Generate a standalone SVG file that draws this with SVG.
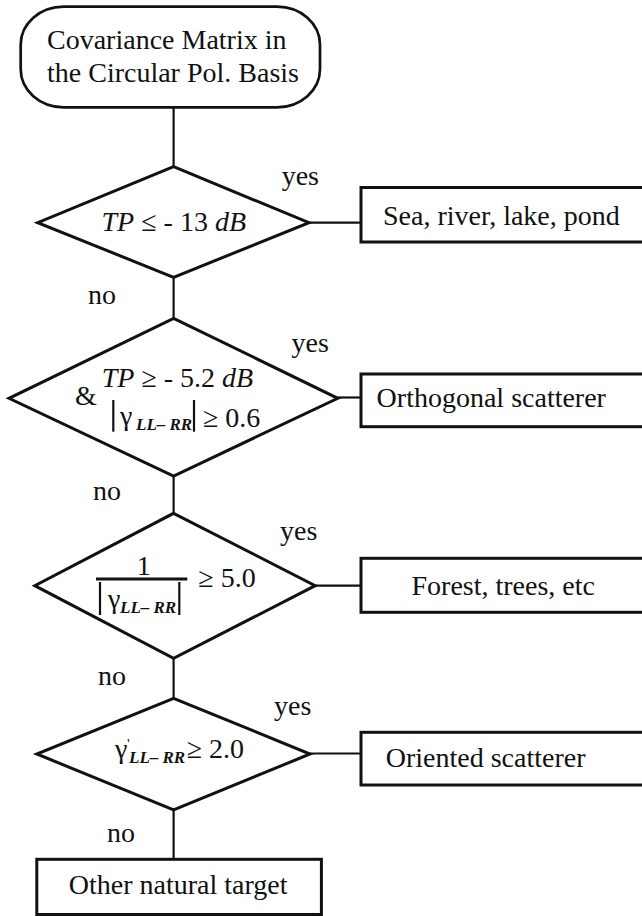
<svg xmlns="http://www.w3.org/2000/svg" width="642" height="916" viewBox="0 0 642 916" font-family="'Liberation Serif', Tinos, 'DejaVu Serif', serif">
<style>
  text { font-family: 'Liberation Serif', Tinos, 'DejaVu Serif', serif; font-size: 28px; fill: #111; }
  .it { font-style: italic; }
  .sub { font-style: italic; font-weight: bold; font-size: 17px; }
  .shape { fill: #fff; stroke: #111; stroke-width: 3; }
  .term { fill: #fff; stroke: #111; stroke-width: 2.7; }
  .box { fill: #fff; stroke: #111; stroke-width: 3; }
  .conn line { stroke: #111; stroke-width: 2.2; }
  .bar { stroke: #111; stroke-width: 2.2; }
  .lbl { font-size: 28px; }
</style>
<rect width="642" height="916" fill="#fff"/>
<g id="connectors" class="conn">
  <line x1="173.6" y1="107.3" x2="173.6" y2="166.7"/>
  <line x1="173.6" y1="277.3" x2="173.6" y2="318.3"/>
  <line x1="173.6" y1="476" x2="173.6" y2="513.3"/>
  <line x1="173.6" y1="658.3" x2="173.6" y2="698.3"/>
  <line x1="173.6" y1="810" x2="173.6" y2="859.3"/>
  <line x1="309" y1="222.7" x2="361" y2="222.7"/>
  <line x1="337.8" y1="397.5" x2="361" y2="397.5"/>
  <line x1="315.2" y1="585.7" x2="361" y2="585.7"/>
  <line x1="310" y1="753.5" x2="361" y2="753.5"/>
  <text class="lbl" x="281.7" y="185">yes</text>
  <text class="lbl" x="291.5" y="351.7">yes</text>
  <text class="lbl" x="280" y="540">yes</text>
  <text class="lbl" x="274" y="715">yes</text>
  <text class="lbl" x="88" y="304">no</text>
  <text class="lbl" x="93" y="500">no</text>
  <text class="lbl" x="98" y="685">no</text>
  <text class="lbl" x="107" y="841.7">no</text>
</g>
<g id="start">
  <rect class="term" x="20.7" y="6.7" width="299.3" height="100.6" rx="43" ry="38"/>
  <text x="47" y="48.5">Covariance Matrix in</text>
  <text x="47" y="82">the Circular Pol. Basis</text>
</g>
<g id="decision1">
  <polygon class="shape" points="173.6,166.7 309,222.7 173.6,277.3 37.7,222.7"/>
  <text x="101.5" y="230.7"><tspan class="it">TP</tspan> ≤ - 13 <tspan class="it">dB</tspan></text>
</g>
<g id="result1">
  <rect class="box" x="361" y="187.5" width="290" height="54.5"/>
  <text x="383" y="225.3">Sea, river, lake, pond</text>
</g>
<g id="decision2">
  <polygon class="shape" points="173.6,318.3 337.8,398.3 173.6,476 9,398.3"/>
  <text x="101.7" y="386.7"><tspan class="it">TP</tspan> ≥ - 5.2 <tspan class="it">dB</tspan></text>
  <text x="75" y="405">&amp;</text>
  <line class="bar" x1="113.3" y1="400" x2="113.3" y2="431.7"/>
  <line class="bar" x1="194" y1="400" x2="194" y2="431.7"/>
  <text x="120" y="425">γ<tspan class="sub" x="136" y="430">LL– RR</tspan></text>
  <text x="203" y="426.7">≥ 0.6</text>
</g>
<g id="result2">
  <rect class="box" x="361" y="374" width="290" height="52.7"/>
  <text x="376.6" y="406.7">Orthogonal scatterer</text>
</g>
<g id="decision3">
  <polygon class="shape" points="173.6,513.3 315.2,585.7 173.6,658.3 34.8,585.7"/>
  <text x="136.7" y="575">1</text>
  <line x1="96" y1="579" x2="187.3" y2="579" stroke="#111" stroke-width="3"/>
  <line class="bar" x1="100" y1="582" x2="100" y2="615"/>
  <line class="bar" x1="179.3" y1="582" x2="179.3" y2="615"/>
  <text x="108" y="608">γ<tspan class="sub" x="120" y="613.3">LL– RR</tspan></text>
  <text x="198.3" y="586.7">≥ 5.0</text>
</g>
<g id="result3">
  <rect class="box" x="361" y="558.3" width="290" height="54"/>
  <text x="411.5" y="595">Forest, trees, etc</text>
</g>
<g id="decision4">
  <polygon class="shape" points="173.6,698.3 310,754 173.6,810 36.8,754"/>
  <text x="115" y="758.3">γ<tspan x="127" y="749" style="font-size:15px">'</tspan><tspan class="sub" x="129" y="763.3">LL– RR</tspan></text>
  <text x="186.7" y="758.3">≥ 2.0</text>
</g>
<g id="result4">
  <rect class="box" x="361" y="732.3" width="290" height="52.7"/>
  <text x="385.7" y="766.7">Oriented scatterer</text>
</g>
<g id="end">
  <rect class="box" x="36.8" y="859.3" width="284.6" height="55.2"/>
  <text x="68.8" y="894">Other natural target</text>
</g>
</svg>
